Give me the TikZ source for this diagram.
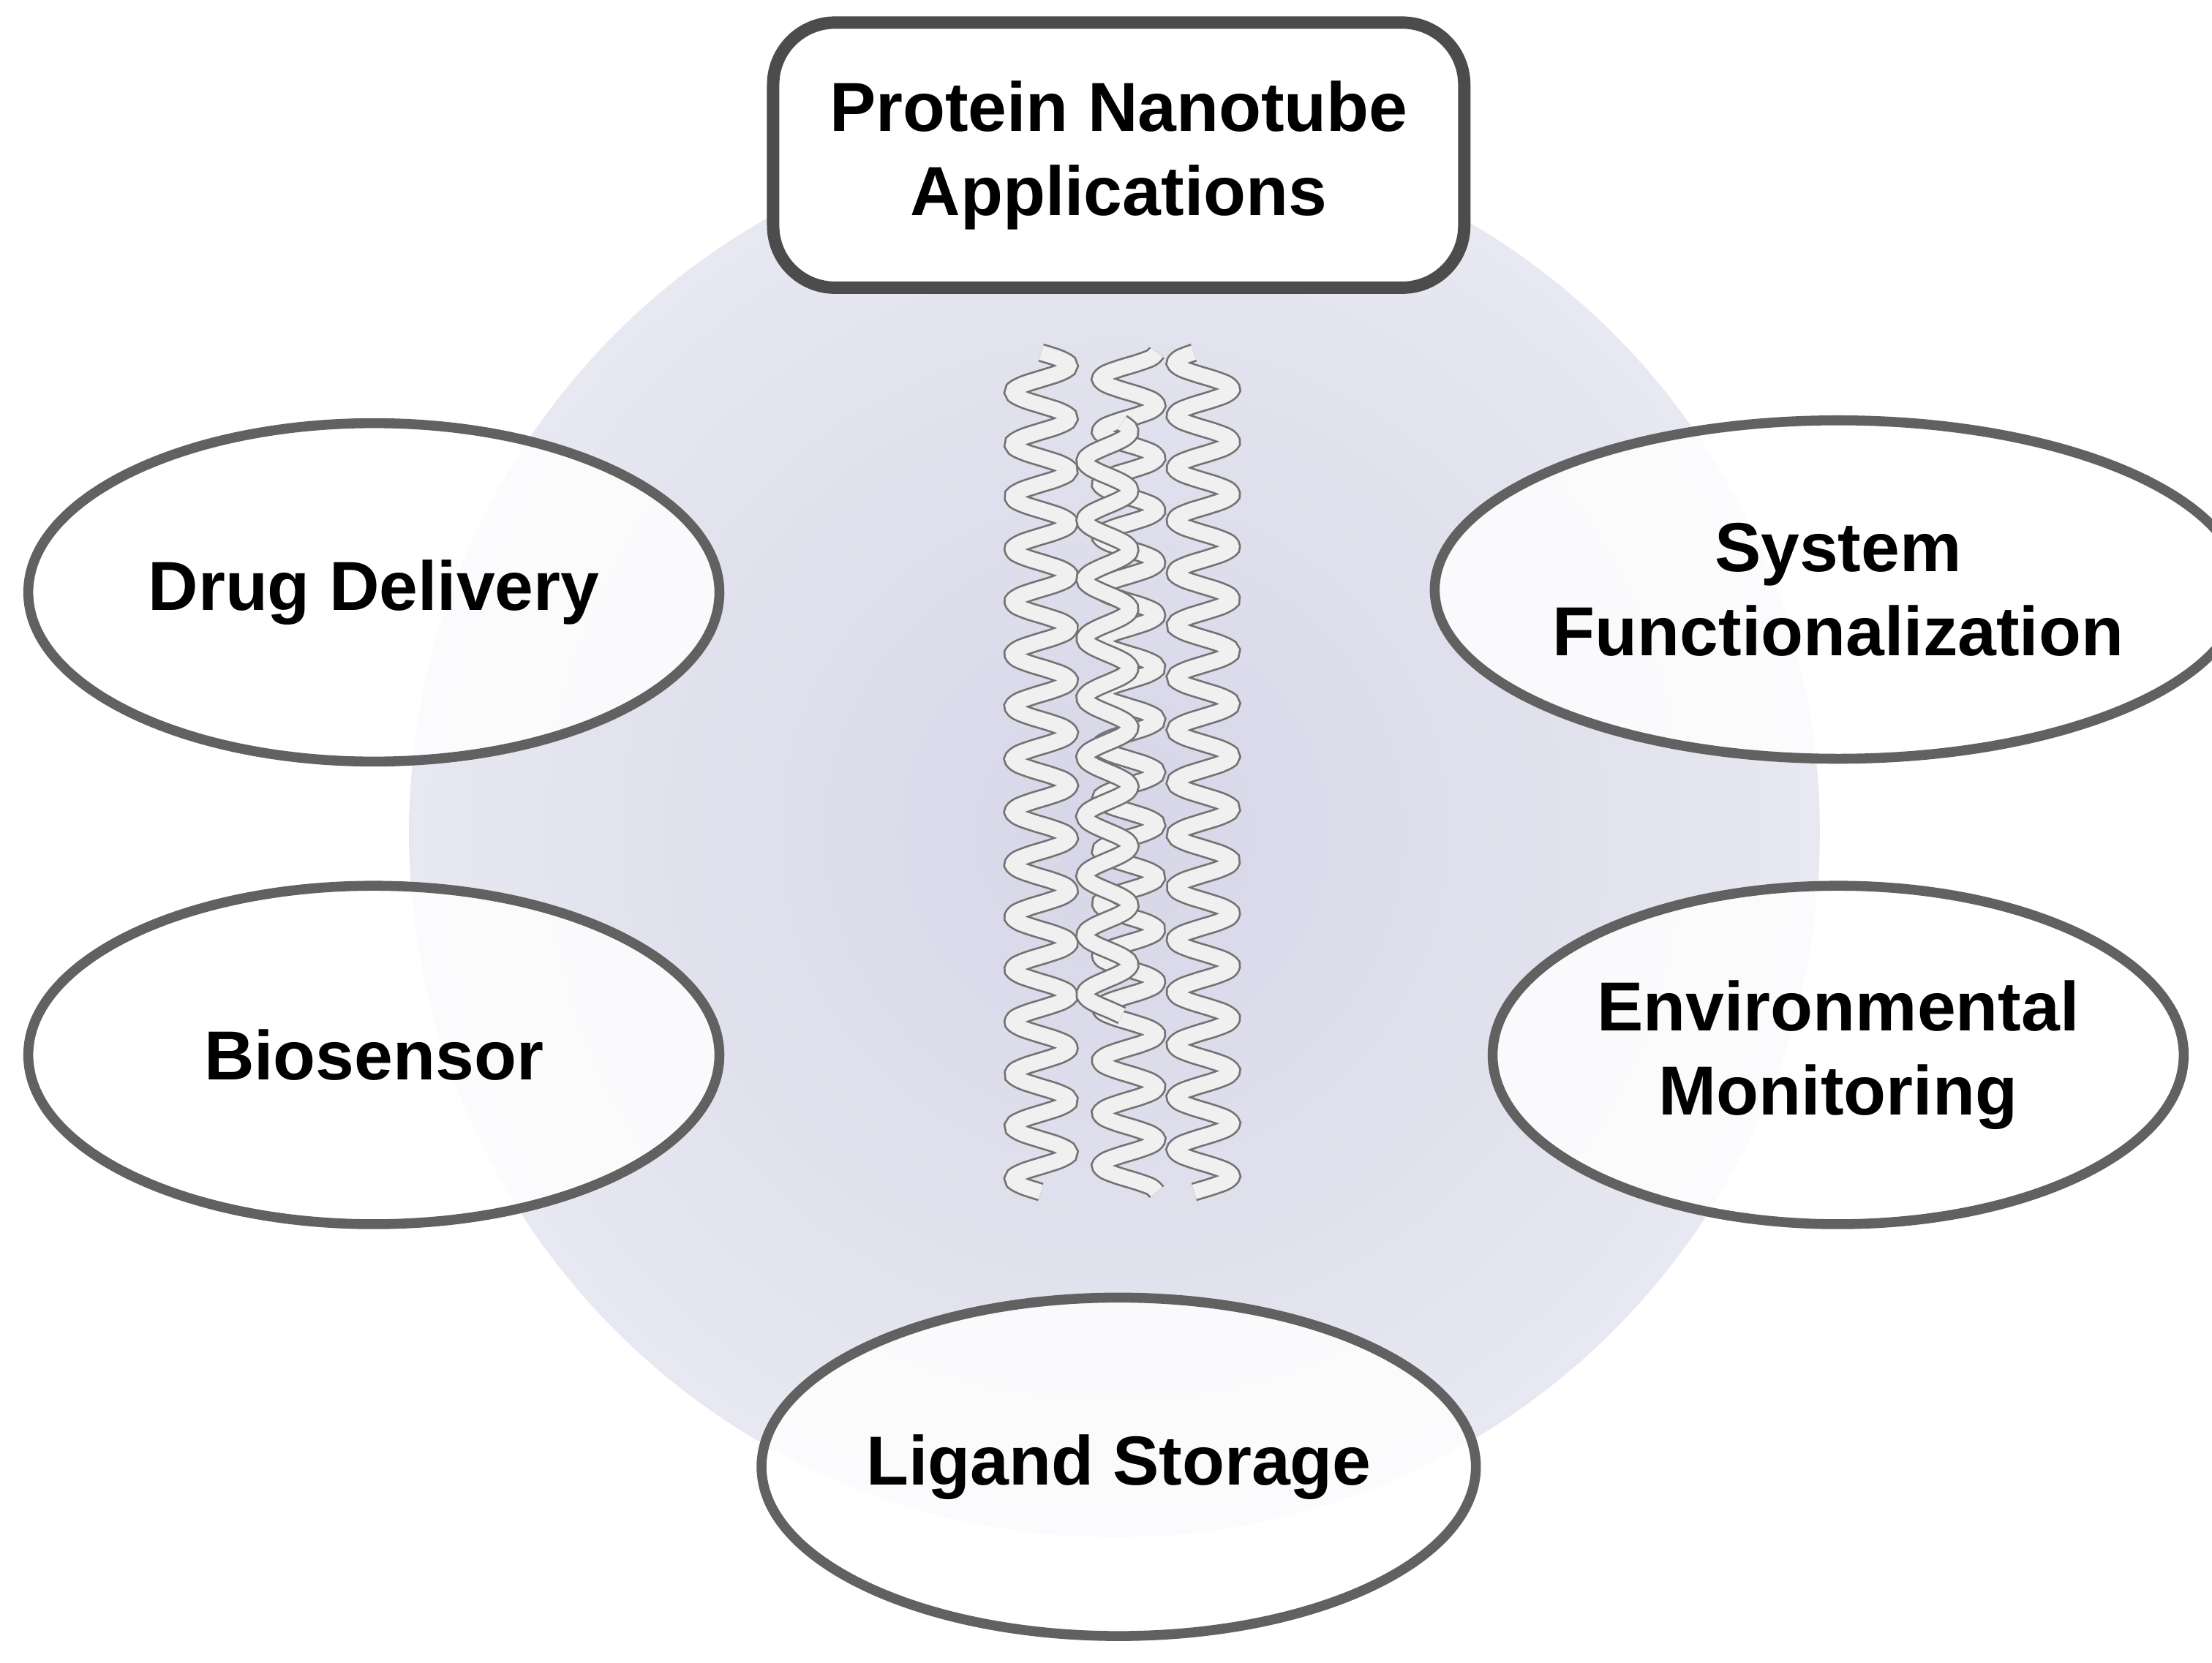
\documentclass[tikz,border=0pt]{standalone}
\usepackage{fontspec}
\setmainfont{Liberation Sans}
\usetikzlibrary{shapes.geometric}
\begin{document}
\begin{tikzpicture}[x=0.02cm,y=-0.02cm,
  lbl/.style={font=\fontsize{28}{34}\selectfont\bfseries,align=center,text=black},
  app/.style={ellipse,draw=black!62,line width=4pt,fill=white,fill opacity=0.85,text opacity=1,
    minimum width=9.8cm,minimum height=4.8cm,inner sep=0pt,lbl},
  helix/.style={draw=black!55,double=white!94!black,double distance=6pt,line width=0.8pt}]
\useasboundingbox (0,0) rectangle (1568,1179);
\fill[white] (0,0) rectangle (1568,1179);
% background disc
\shade[inner color={rgb,255:red,214;green,214;blue,232},outer color={rgb,255:red,232;green,232;blue,242}] (790,590) circle (500);
% helices
\foreach \cx/\ph in {738/0,800/90,853/200}{
  \draw[helix] plot[smooth,samples=160,domain=0:16,variable=\t]
    ({\cx+20*sin(360*\t+\ph)},{250+\t*37.2});
}
\draw[helix] plot[smooth,samples=120,domain=0:10,variable=\t]
    ({785+16*sin(360*\t+40)},{300+\t*42});
% title
\node[draw=black!70,line width=5pt,rounded corners=25pt,fill=white,
  minimum width=9.8cm,minimum height=3.76cm,lbl] (title) at (793,110) {Protein Nanotube\\Applications};
% applications
\node[app] (drug) at (265,420) {Drug Delivery};
\node[app] (bio) at (265,748) {Biosensor};
\node[app] (sys) at (1303,418) {System\\Functionalization};
\node[app] (env) at (1303,748) {Environmental\\Monitoring};
\node[app] (lig) at (793,1040) {Ligand Storage};
\end{tikzpicture}
\end{document}
